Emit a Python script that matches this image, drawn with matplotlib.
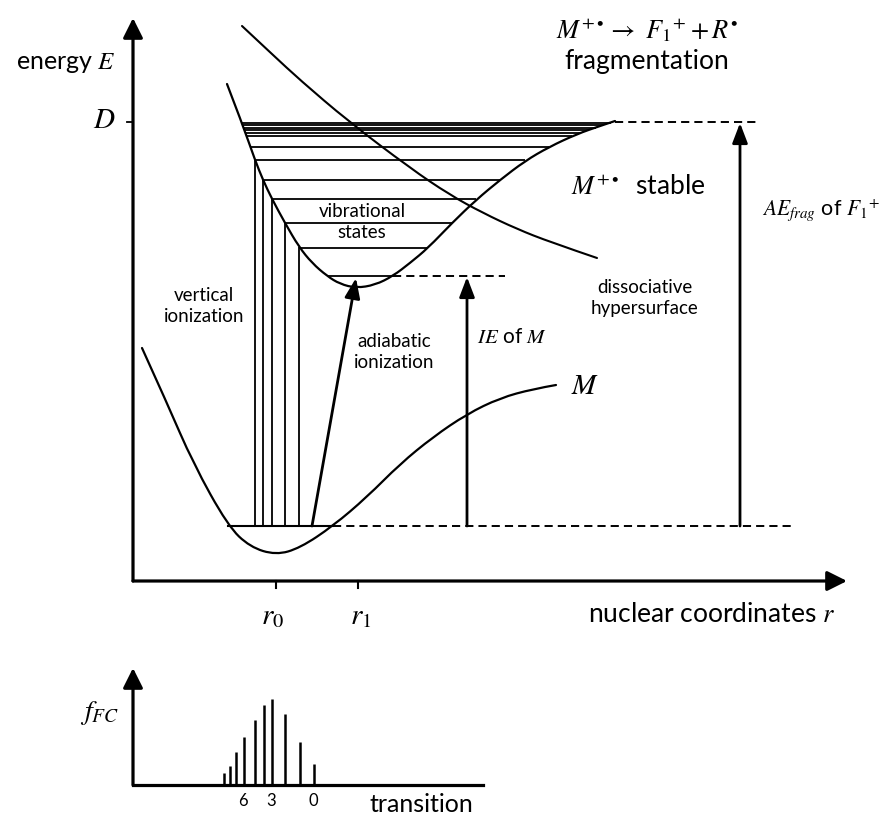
import numpy as np
import matplotlib
matplotlib.use("Agg")
import matplotlib.pyplot as plt
from matplotlib.path import Path
from matplotlib.patches import PathPatch

plt.rcParams['font.family'] = ['Lato', 'DejaVu Sans']
plt.rcParams['mathtext.fontset'] = 'stix'

# --- data (r = px from left, E = px from top) ---
neutral_r = [142, 167, 193, 228, 250, 276, 300, 333, 367, 400, 433, 467, 500, 533, 556]
neutral_E = [348, 403, 463, 526, 547, 555, 548, 526, 497, 464, 437, 414, 398, 389, 385]

ion_r = [227, 242, 255, 263, 272, 285, 299, 312, 327, 340, 356, 375, 393, 410,
         428, 452, 476, 500, 525, 549, 577, 600, 615]
ion_E = [84, 123, 160, 180, 199, 223, 247, 263, 276, 284, 288, 285, 276, 263,
         248, 223, 200, 180, 161, 147, 134, 126, 121]

diss_r = [242, 273, 300, 348, 410, 450, 483, 517, 550, 597]
diss_E = [26, 55, 80, 121, 168, 195, 213, 229, 242, 258]

# vibrational levels of M+. (energy, left and right turning points)
vib_E = [276, 248, 223, 199, 180, 160, 147, 136, 133, 130, 127.5, 125, 122.5]
vib_left = [327, 299, 285, 272, 263, 255, 250, 246.5, 245.5, 244.5, 243.6, 242.7, 241.5]
vib_right = [393, 428, 452, 476, 500, 525, 549, 572, 580, 588, 596, 603, 611]

# vertical ionization lines (r, upper level)
vert_r = [255, 263, 272, 285, 299]
vert_top = [160, 180, 199, 223, 247]

ground_E = 526
ground_left, ground_right = 228, 333
D_E = 122
r0, r1 = 276, 358

# Franck-Condon factors
fc_r = [314, 300, 285, 272, 264, 255, 244, 236, 230, 224]
fc_height = [20.7, 43.3, 71, 86.3, 80, 64.7, 48, 32.7, 19.3, 11.7]
fc_labels = {6: '6', 3: '3', 0: '0'}
fc_base = 785


def smooth_curve(ax, xs, ys, **kw):
    pts = np.column_stack([xs, ys]).astype(float)
    verts = [pts[0]]
    codes = [Path.MOVETO]
    for i in range(1, len(pts) - 1):
        end = (pts[i] + pts[i + 1]) / 2 if i < len(pts) - 2 else pts[-1]
        verts += [pts[i], end]
        codes += [Path.CURVE3, Path.CURVE3]
    ax.add_patch(PathPatch(Path(verts, codes), fill=False, capstyle='round', **kw))


def arrow(ax, start, end, style, lw, scale):
    ax.annotate('', xy=end, xytext=start,
                arrowprops=dict(arrowstyle=style, lw=lw, color='black',
                                mutation_scale=scale, shrinkA=0, shrinkB=0))


fig = plt.figure(figsize=(8.82, 8.17), dpi=100)
ax = fig.add_axes([0, 0, 1, 1])
ax.set_xlim(0, 882)
ax.set_ylim(817, 0)
ax.set_axis_off()

ax_style = '-|>,head_length=1.0,head_width=0.5'
# main axes
arrow(ax, (133, 581), (133, 18), ax_style, 2.3, 12)
arrow(ax, (133, 581), (847, 581), ax_style, 2.3, 12)
ax.plot([127, 133], [D_E, D_E], color='black', lw=1.3)
for r in (r0, r1):
    ax.plot([r, r], [581, 588], color='black', lw=1.5)

# potential curves
smooth_curve(ax, neutral_r, neutral_E, lw=1.6, edgecolor='black')
smooth_curve(ax, ion_r, ion_E, lw=1.6, edgecolor='black')
smooth_curve(ax, diss_r, diss_E, lw=1.5, edgecolor='black')

# vibrational states
ax.hlines(vib_E, vib_left, vib_right, colors='black', lw=1.3)
ax.vlines(vert_r, vert_top, ground_E, colors='black', lw=1.3)
ax.plot([ground_left, ground_right], [ground_E, ground_E], color='black', lw=1.5)

# dashed reference levels
dash = dict(color='black', lw=1.4, dashes=(4.2, 2.6))
ax.plot([ground_right, 793], [ground_E, ground_E], **dash)
ax.plot([vib_right[0], 505], [vib_E[0], vib_E[0]], **dash)
ax.plot([615, 760], [D_E, D_E], **dash)

# transitions
tr_style = '-|>,head_length=1.1,head_width=0.42'
arrow(ax, (312, ground_E), (356, vib_E[0] + 2), tr_style, 2.0, 11)
arrow(ax, (467, ground_E), (467, vib_E[0] + 1), tr_style, 2.0, 11)
arrow(ax, (740, ground_E), (740, D_E + 1), tr_style, 2.0, 11)

# labels
big = 19
mid = 13.5
ax.text(116, 63, r'energy $E$', fontsize=big - 1, ha='right', va='center')
ax.text(104, 120, r'$D$', fontsize=big + 2, ha='center', va='center')
ax.text(647, 30, r'$M^{+\bullet}\rightarrow\ F_1{}^{+}+R^{\bullet}$', fontsize=big,
        ha='center', va='center')
ax.text(647, 61, 'fragmentation', fontsize=big, ha='center', va='center')
ax.text(571, 187, r'$M^{+\bullet}$  stable', fontsize=big, ha='left', va='center')
ax.text(762, 210, r'$AE_{frag}$ of $F_1{}^{+}$', fontsize=15.5, ha='left', va='center')
ax.text(362, 222, 'vibrational\nstates', fontsize=mid, ha='center', va='center',
        linespacing=1.3)
ax.text(204, 306, 'vertical\nionization', fontsize=mid, ha='center', va='center',
        linespacing=1.3)
ax.text(394, 352, 'adiabatic\nionization', fontsize=mid, ha='center', va='center',
        linespacing=1.3)
ax.text(645, 298, 'dissociative\nhypersurface', fontsize=mid, ha='center', va='center',
        linespacing=1.3)
ax.text(477, 337, r'$\mathit{IE}$ of $M$', fontsize=mid + 1.5, ha='left', va='center')
ax.text(585, 386, r'$M$', fontsize=big + 2, ha='center', va='center')
ax.text(835, 615, r'nuclear coordinates $r$', fontsize=big, ha='right', va='center')
ax.text(r0 - 3, 617, r'$r_0$', fontsize=big + 2, ha='center', va='center')
ax.text(r1 + 3, 617, r'$r_1$', fontsize=big + 2, ha='center', va='center')

# Franck-Condon spectrum
arrow(ax, (133, fc_base), (133, 668), ax_style, 2.3, 12)
ax.plot([133, 483], [fc_base, fc_base], color='black', lw=2.3)
ax.vlines(fc_r, fc_base, np.array(fc_base) - np.array(fc_height), colors='black', lw=1.8)
for i, lab in fc_labels.items():
    ax.text(fc_r[i] - 1, 801, lab, fontsize=12, ha='center', va='center')
ax.text(100, 713, r'$f_{FC}$', fontsize=big + 1, ha='center', va='center')
ax.text(421, 805, 'transition', fontsize=big - 1, ha='center', va='center')

fig.savefig('out.png', dpi=100)
